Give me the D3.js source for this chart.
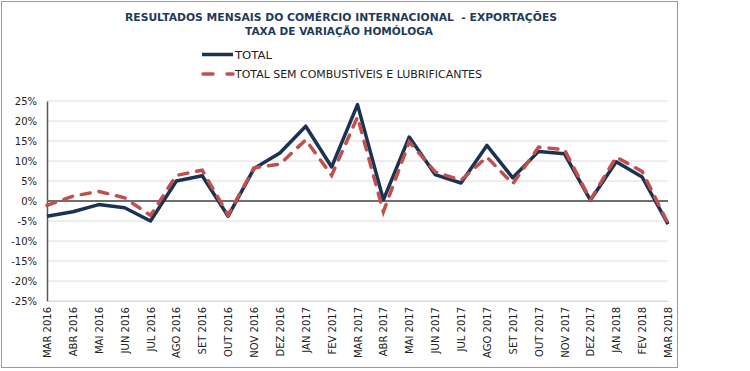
<!DOCTYPE html>
<html>
<head>
    <meta charset="UTF-8">
    <script src="https://cdn.jsdelivr.net/npm/d3@7"></script>
    <style>
        body { margin: 0; background: #fff; }
        text { font-family: "DejaVu Sans", Verdana, sans-serif; }
    </style>
</head>
<body>
<svg id="chart" width="750" height="371"></svg>
<script>

// meses (eixo x)
let months = ["MAR 2016", "ABR 2016", "MAI 2016", "JUN 2016", "JUL 2016", "AGO 2016", "SET 2016",
              "OUT 2016", "NOV 2016", "DEZ 2016", "JAN 2017", "FEV 2017", "MAR 2017", "ABR 2017",
              "MAI 2017", "JUN 2017", "JUL 2017", "AGO 2017", "SET 2017", "OUT 2017", "NOV 2017",
              "DEZ 2017", "JAN 2018", "FEV 2018", "MAR 2018"];

// taxa de variação homóloga (%)
let total = [-3.8, -2.7, -0.9, -1.7, -5.0, 5.0, 6.3, -3.8, 8.1, 12.0, 18.7, 8.5, 24.1, 0.3,
             16.0, 6.6, 4.5, 13.9, 5.8, 12.4, 11.8, 0.2, 9.8, 6.0, -5.8];
let semCombustiveis = [-1.1, 1.2, 2.4, 0.8, -3.6, 6.4, 7.7, -3.5, 8.3, 9.2, 15.3, 6.4, 21.0, -2.7,
                       14.8, 7.3, 5.2, 11.0, 4.3, 13.5, 12.8, 0.3, 11.0, 7.4, -5.6];

let yTicks = [-25, -20, -15, -10, -5, 0, 5, 10, 15, 20, 25];

let title1 = "RESULTADOS MENSAIS DO COMÉRCIO INTERNACIONAL  - EXPORTAÇÕES";
let title2 = "TAXA DE VARIAÇÃO HOMÓLOGA";
let legendNames = ["TOTAL", "TOTAL SEM COMBUSTÍVEIS E LUBRIFICANTES"];

let colTotal = "#1b3252";
let colSem = "#c0504d";

let svg = d3.select("#chart");

// moldura
svg.append("rect")
    .attr("x", 1.5).attr("y", 1.5).attr("width", 676).attr("height", 366)
    .attr("fill", "#fff").attr("stroke", "#9a9a9a").attr("stroke-width", 1);

let x = d3.scalePoint(months, [47, 668]);
let y = d3.scaleLinear([-25, 25], [301, 101]);

// títulos
svg.append("text").attr("x", 341).attr("y", 20.5).attr("text-anchor", "middle")
    .attr("font-size", 10.5).attr("font-weight", "bold").attr("fill", "#1f3a5c")
    .style("white-space", "pre")
    .attr("textLength", 432).attr("lengthAdjust", "spacingAndGlyphs")
    .text(title1);
svg.append("text").attr("x", 339).attr("y", 34.5).attr("text-anchor", "middle")
    .attr("font-size", 10.5).attr("font-weight", "bold").attr("fill", "#1f3a5c")
    .attr("textLength", 188).attr("lengthAdjust", "spacingAndGlyphs")
    .text(title2);

// grelha
svg.append("g").selectAll("line").data(yTicks.filter(d => d !== 0)).join("line")
    .attr("x1", 47).attr("x2", 668)
    .attr("y1", d => y(d)).attr("y2", d => y(d))
    .attr("stroke", "#dcdcdc").attr("stroke-width", 1);

// eixo y
let yAxis = svg.append("g").attr("transform", "translate(47,0)")
    .call(d3.axisLeft(y).tickValues(yTicks).tickSize(0).tickPadding(10).tickFormat(d => d + "%"));
yAxis.select(".domain").attr("stroke", "#595959").attr("stroke-width", 1.5);
yAxis.selectAll("text").attr("font-size", 10).attr("fill", "#222")
    .style("font-family", "'DejaVu Sans', sans-serif");

// linha do zero
svg.append("line").attr("x1", 47).attr("x2", 668).attr("y1", y(0)).attr("y2", y(0))
    .attr("stroke", "#6e6e6e").attr("stroke-width", 2);

// eixo x (rótulos rodados)
let xAxis = svg.append("g").attr("transform", "translate(0," + y(-25) + ")")
    .call(d3.axisBottom(x).tickSize(0));
xAxis.select(".domain").attr("stroke", "#d9d9d9");
xAxis.selectAll("text")
    .attr("font-size", 10).attr("fill", "#222")
    .style("font-family", "'DejaVu Sans', sans-serif")
    .attr("text-anchor", "end")
    .attr("transform", "rotate(-90)")
    .attr("x", -6).attr("y", 0).attr("dy", "0.35em");

// linhas
let line = d3.line().x((d, i) => x(months[i])).y(d => y(d));

svg.append("path").datum(total)
    .attr("d", line).attr("fill", "none")
    .attr("stroke", colTotal).attr("stroke-width", 3.5).attr("stroke-linejoin", "round");

svg.append("path").datum(semCombustiveis)
    .attr("d", line).attr("fill", "none")
    .attr("stroke", colSem).attr("stroke-width", 3.5)
    .attr("stroke-dasharray", "9,9").attr("stroke-linecap", "round");

// legenda
let legend = svg.append("g");
legend.append("line").attr("x1", 202).attr("x2", 233).attr("y1", 54.5).attr("y2", 54.5)
    .attr("stroke", colTotal).attr("stroke-width", 3.5);
legend.append("line").attr("x1", 203).attr("x2", 233).attr("y1", 74).attr("y2", 74)
    .attr("stroke", colSem).attr("stroke-width", 3.5)
    .attr("stroke-dasharray", "10,14").attr("stroke-linecap", "round");
legend.selectAll("text").data(legendNames).join("text")
    .attr("x", 235).attr("y", (d, i) => 58.5 + i * 19.5)
    .attr("font-size", 10).attr("fill", "#222")
    .attr("textLength", (d, i) => i === 0 ? 37 : 247).attr("lengthAdjust", "spacingAndGlyphs")
    .text(d => d);

</script>
</body>
</html>
